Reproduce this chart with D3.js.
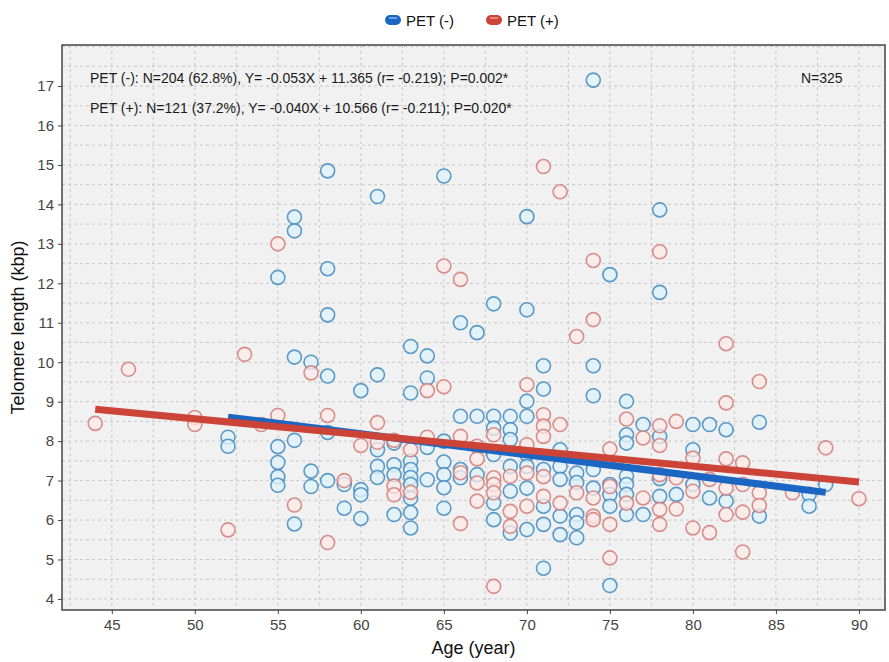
<!DOCTYPE html>
<html><head><meta charset="utf-8">
<script src="https://cdn.jsdelivr.net/npm/d3@7"></script>
<style>body{margin:0;background:#fff;font-family:"Liberation Sans",Arial,sans-serif;}</style>
</head><body><svg id="c" width="889" height="662"></svg>
<script>
// ---- data (age in years, telomere length kbp) ----
const petNegAge = [52,52,55,55,55,55,55,56,56,56,56,56,57,57,57,58,58,58,58,58,58,59,59,60,60,60,60,
  61,61,61,61,61,62,62,62,62,63,63,63,63,63,63,63,63,63,64,64,64,64,65,65,65,65,65,65,
  66,66,66,66,67,67,67,68,68,68,68,68,68,69,69,69,69,69,69,70,70,70,70,70,70,70,70,
  71,71,71,71,71,71,72,72,72,72,72,73,73,73,73,73,74,74,74,74,74,75,75,75,75,75,
  76,76,76,76,76,76,76,77,77,78,78,78,78,78,79,80,80,80,81,81,82,82,84,84,87,87,88];
const petNegVal = [8.10,7.87,12.15,7.86,7.46,7.10,6.88,13.68,13.33,10.13,8.02,5.90,10.00,7.24,6.85,14.85,12.37,11.20,9.65,8.22,7.00,6.90,6.30,9.28,6.77,6.64,6.04,
  14.20,9.68,7.78,7.36,7.08,7.95,7.40,7.15,6.14,10.40,9.22,7.49,7.28,7.08,6.90,6.55,6.19,5.80,10.16,9.60,7.84,7.02,14.72,8.00,7.47,7.15,6.82,6.30,
  11.00,8.63,7.28,7.07,10.75,8.63,7.15,11.48,8.63,8.33,7.66,6.43,6.01,8.63,8.29,8.04,7.36,6.73,5.67,13.69,11.33,9.01,8.63,7.66,7.36,6.81,5.76,
  9.91,9.32,7.28,6.35,5.89,4.78,7.78,7.36,7.03,6.10,5.63,7.19,6.95,6.14,5.93,5.55,17.15,9.91,9.15,7.28,6.81,12.22,6.90,6.65,6.35,4.34,
  9.01,8.16,7.95,7.11,6.90,6.65,6.14,8.42,6.14,13.86,11.77,8.12,7.05,6.60,6.65,8.42,7.78,6.90,8.42,6.56,8.29,6.48,8.48,6.10,6.65,6.35,6.90];
const petPosAge = [44,46,50,50,52,53,54,55,55,56,57,58,58,59,60,61,61,62,62,62,63,63,64,64,65,65,
  66,66,66,66,67,67,67,67,68,68,68,68,68,69,69,69,70,70,70,70,71,71,71,71,71,71,72,72,72,
  73,73,74,74,74,74,74,75,75,75,75,76,76,77,77,78,78,78,78,78,78,79,79,79,80,80,80,81,81,
  82,82,82,82,82,83,83,83,83,84,84,84,86,88,90];
const petPosVal = [8.45,9.82,8.60,8.42,5.75,10.20,8.42,13.00,8.65,6.38,9.73,8.65,5.43,7.00,7.89,8.47,7.97,8.02,6.86,6.64,7.78,6.70,9.28,8.10,12.44,9.38,
  12.10,8.12,7.20,5.91,7.87,7.55,6.94,6.48,8.16,7.07,6.90,6.69,4.32,7.11,6.22,5.84,9.43,7.91,7.19,6.35,14.96,8.67,8.38,8.12,7.10,6.60,14.32,8.42,6.43,
  10.65,6.69,12.58,11.08,6.56,6.10,6.01,7.80,6.85,5.89,5.04,8.56,6.43,8.08,6.56,12.80,8.39,7.89,7.15,6.27,5.89,8.50,7.07,6.28,7.57,6.73,5.80,7.03,5.68,
  10.47,8.97,7.55,6.81,6.14,7.45,6.90,6.20,5.19,9.51,6.69,6.37,6.69,7.83,6.54];
// fitted regression lines (slope, intercept, age range)
const fitNames = ["PET (-)","PET (+)"];
const fitSlope = [-0.053,-0.040];
const fitIntercept = [11.365,10.566];
const fitRange = [[52,88],[44,90]];
const xTicks = [45,50,55,60,65,70,75,80,85,90];
const yTicks = [4,5,6,7,8,9,10,11,12,13,14,15,16,17];
const notes = ["PET (-): N=204 (62.8%), Y= -0.053X + 11.365 (r= -0.219); P=0.002*",
               "PET (+): N=121 (37.2%), Y= -0.040X + 10.566 (r= -0.211); P=0.020*"];
const totalNote = "N=325";

const svg = d3.select("#c");
const L=62, R=885, T=45, B=610;
const x = d3.scaleLinear().domain([42,91.57]).range([L,R]);
const y = d3.scaleLinear().domain([3.72,18.04]).range([B,T]);

svg.append("rect").attr("x",L).attr("y",T).attr("width",R-L).attr("height",B-T).attr("fill","#f1f1f1");
const grid = svg.append("g").attr("stroke","#c9c9c9").attr("stroke-width",1).attr("stroke-dasharray","3,3");
d3.range(42.5,91.5,2.5).forEach(v=>grid.append("line").attr("x1",x(v)).attr("x2",x(v)).attr("y1",T).attr("y2",B));
d3.range(4,18.01,0.5).forEach(v=>grid.append("line").attr("y1",y(v)).attr("y2",y(v)).attr("x1",L).attr("x2",R));

const blueStroke="#4b8fc2", blueFill="#dff2fa", redStroke="#d27d7a", redFill="#fbe9e7";
const neg = petNegAge.map((a,i)=>({a,v:petNegVal[i]}));
const pos = petPosAge.map((a,i)=>({a,v:petPosVal[i]}));
svg.append("g").selectAll("circle").data(neg).join("circle")
  .attr("cx",d=>x(d.a)).attr("cy",d=>y(d.v)).attr("r",7)
  .attr("fill",blueFill).attr("fill-opacity",0.8).attr("stroke",blueStroke).attr("stroke-width",1.6).attr("stroke-opacity",0.9);
svg.append("g").selectAll("circle").data(pos).join("circle")
  .attr("cx",d=>x(d.a)).attr("cy",d=>y(d.v)).attr("r",7)
  .attr("fill",redFill).attr("fill-opacity",0.75).attr("stroke",redStroke).attr("stroke-width",1.6).attr("stroke-opacity",0.85);

const lineCols=["#1a66c2","#cc4338"];
fitNames.forEach((n,i)=>{
  const pts = fitRange[i].map(a=>[a, fitSlope[i]*a+fitIntercept[i]]);
  svg.append("line").attr("x1",x(pts[0][0])).attr("y1",y(pts[0][1])).attr("x2",x(pts[1][0])).attr("y2",y(pts[1][1]))
    .attr("stroke",lineCols[i]).attr("stroke-width",7);
});

svg.append("rect").attr("x",L).attr("y",T).attr("width",R-L).attr("height",B-T).attr("fill","none").attr("stroke","#505050").attr("stroke-width",1.6);

// axes
const xa = svg.append("g").attr("transform",`translate(0,${B})`).call(d3.axisBottom(x).tickValues(xTicks).tickSize(4).tickPadding(5));
const ya = svg.append("g").attr("transform",`translate(${L},0)`).call(d3.axisLeft(y).tickValues(yTicks).tickSize(4).tickPadding(4));
[xa,ya].forEach(g=>{g.select(".domain").remove();g.selectAll("line").attr("stroke","#444");
  g.selectAll("text").attr("fill","#454545").style("font-size","15px").style("font-family","'Liberation Sans',Arial,sans-serif");});

svg.append("text").attr("x",(L+R)/2).attr("y",654).attr("text-anchor","middle").style("font-size","18px").attr("fill","#111").text("Age (year)");
svg.append("text").attr("transform",`translate(24,${(T+B)/2}) rotate(-90)`).attr("text-anchor","middle").style("font-size","18px").attr("fill","#111").text("Telomere length (kbp)");

notes.forEach((t,i)=>svg.append("text").attr("x",90).attr("y",83+i*30).style("font-size","14px").attr("fill","#1a1a1a").text(t));
svg.append("text").attr("x",801).attr("y",83).style("font-size","14px").attr("fill","#1a1a1a").text(totalNote);

// legend
const legX=[393,494];
fitNames.forEach((n,i)=>{
  const g=svg.append("g").attr("transform",`translate(${legX[i]},20)`);
  g.append("rect").attr("x",-8).attr("y",-5).attr("width",16).attr("height",10).attr("rx",5).attr("fill",lineCols[i]);
  g.append("line").attr("x1",-4).attr("x2",4).attr("y1",-2).attr("y2",-2).attr("stroke","#fff").attr("stroke-opacity",0.5).attr("stroke-width",1.5);
  g.append("text").attr("x",13).attr("y",6).style("font-size","15px").attr("fill","#111").text(n);
});
</script></body></html>
